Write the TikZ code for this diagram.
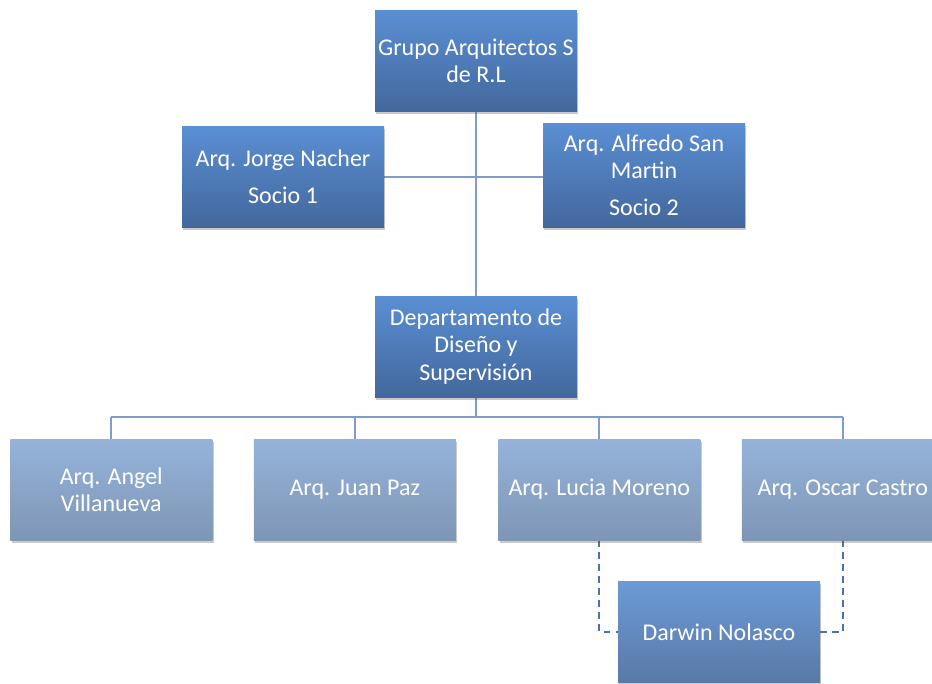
\documentclass[tikz,border=0pt]{standalone}
\usepackage{fontspec}
\setmainfont{Carlito}
\usetikzlibrary{shadows,backgrounds}
\usepackage{xcolor}
\definecolor{leadtop}{HTML}{5A8FD4}
\definecolor{leadbot}{HTML}{43679C}
\definecolor{stafftop}{HTML}{95B3DA}
\definecolor{staffbot}{HTML}{7E96B5}
\definecolor{helptop}{HTML}{6C9AD6}
\definecolor{helpbot}{HTML}{5A79A6}
\definecolor{linkblue}{HTML}{7F9DCC}
\definecolor{dashblue}{HTML}{4A72B0}

\begin{document}
\begin{tikzpicture}[x=.75pt, y=-.75pt,
    orgbox/.style={rectangle,minimum width=151.5pt,minimum height=75.75pt,inner sep=1pt,align=center,text=white,
        font=\fontsize{18}{20.5}\selectfont,
        drop shadow={shadow xshift=1pt,shadow yshift=-2pt,opacity=.3,fill=black!70}},
    lead/.style={orgbox,top color=leadtop,bottom color=leadbot},
    staff/.style={orgbox,top color=stafftop,bottom color=staffbot},
    helper/.style={orgbox,top color=helptop,bottom color=helpbot},
    link/.style={draw=linkblue,line width=1.5pt},
    dotted link/.style={draw=dashblue,line width=1.5pt,dash pattern=on 5pt off 4pt}]
        \useasboundingbox (0,0) rectangle (932,683);
        \clip (0,0) rectangle (932,683);
        \node at (476,61) [lead] (grupo) {Grupo Arquitectos S\\de R.L};
        \node at (283,176.5) [lead] (jorge) {Arq. Jorge Nacher\\[7pt]Socio 1};
        \node at (644,175) [lead,minimum height=78pt] (alfredo) {Arq. Alfredo San\\Martin\\[7pt]Socio 2};
        \node at (476,346.5) [lead] (depto) {Departamento de\\Diseño y\\Supervisión};
        \node at (10,489.5) [staff,anchor=west] (angel) {Arq. Angel\\Villanueva};
        \node at (angel.east) [staff,anchor=west,xshift=30.75pt] (juan) {Arq. Juan Paz};
        \node at (juan.east) [staff,anchor=west,xshift=31.5pt] (lucia) {Arq. Lucia Moreno};
        \node at (lucia.east) [staff,anchor=west,xshift=30.75pt] (oscar) {Arq. Oscar Castro};
        \node at (719,632) [helper] (darwin) {Darwin Nolasco};
        \coordinate (bus) at (476,417);
        \begin{scope}[on background layer]
            \draw[link] (grupo.south) -- (depto.north);
            \draw[link] (jorge.east) -- (alfredo.west |- jorge.east);
            \draw[link] (depto.south) -- (bus);
            \draw[link] (bus -| angel) -- (bus -| oscar);
            \foreach \who in {angel,juan,lucia,oscar}
                \draw[link] (bus -| \who) -- (\who.north);
            \draw[dotted link] (lucia.south) |- (darwin.west);
            \draw[dotted link] (oscar.south) |- (darwin.east);
        \end{scope}
    \end{tikzpicture}
\end{document}
